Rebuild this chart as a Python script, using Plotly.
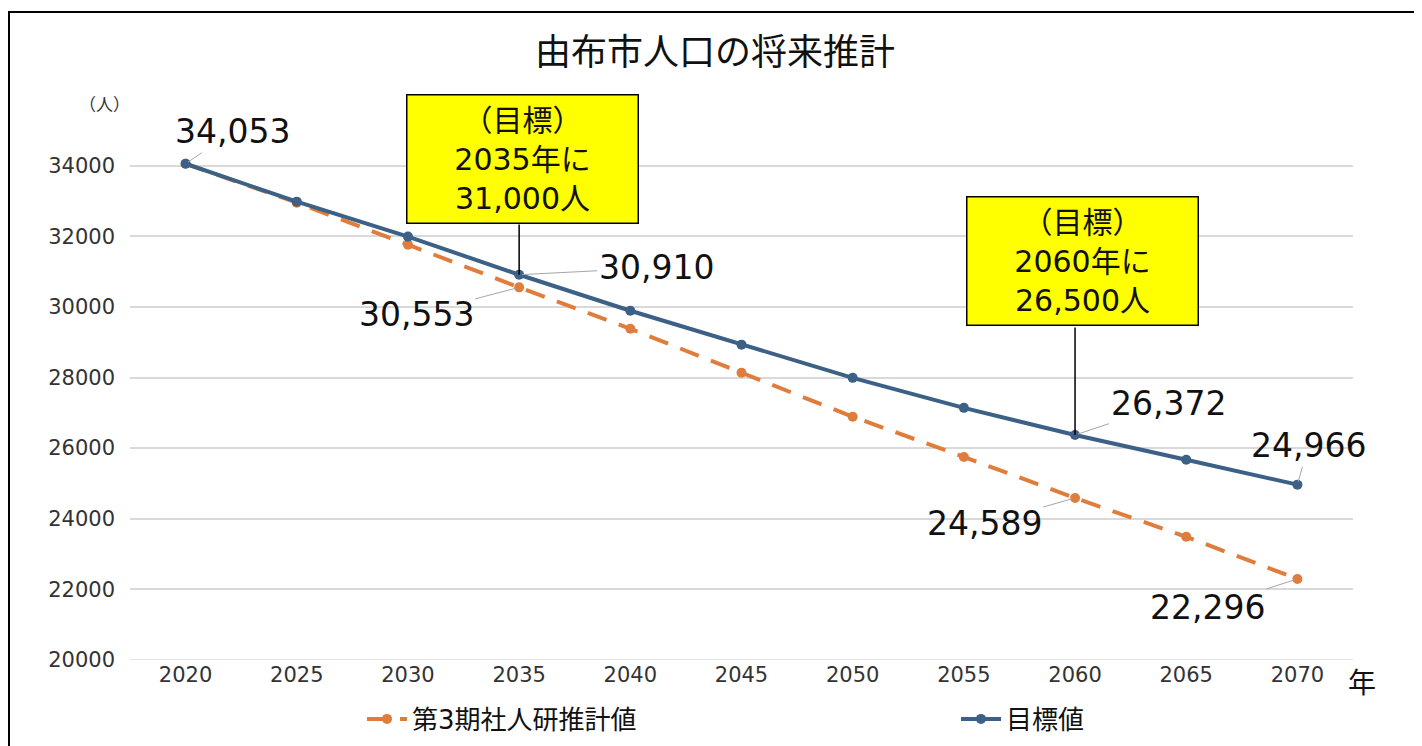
import plotly.graph_objects as go

years = ["2020", "2025", "2030", "2035", "2040", "2045", "2050", "2055", "2060", "2065", "2070"]
projection = [34053, 32950, 31760, 30553, 29380, 28135, 26890, 25750, 24589, 23490, 22296]
target = [34053, 32980, 31990, 30910, 29890, 28930, 27990, 27140, 26372, 25670, 24966]
y_ticks = [20000, 22000, 24000, 26000, 28000, 30000, 32000, 34000]

name_proj = "第3期社人研推計値"
name_target = "目標値"
title_text = "由布市人口の将来推計"

ORANGE = "#E07D3C"
BLUE = "#3D6086"
GRID = "#D9D9D9"
FONT = "DejaVu Sans, Noto Sans CJK JP, sans-serif"

fig = go.Figure()
fig.add_trace(go.Scatter(x=years, y=projection, name=name_proj, mode="lines+markers",
                         line=dict(color=ORANGE, width=4, dash="20px,13px"),
                         marker=dict(size=10, color=ORANGE), legend="legend", showlegend=True))
fig.add_trace(go.Scatter(x=years, y=target, name=name_target, mode="lines+markers",
                         line=dict(color=BLUE, width=4),
                         marker=dict(size=10, color=BLUE), legend="legend2", showlegend=True))

# page offset (html body margin) is 8px
OFF = 8
W, H = 1422 - OFF, 746 - OFF
PL, PR, PT, PB = 130, 1353, 95, 660  # plot area in page pixels
L, R, T, B = PL - OFF, W - (PR - OFF), PT - OFF, H - (PB - OFF)
pw, ph = W - L - R, H - T - B
Y0, Y1 = 20000, 36000

def px(xp):
    return (xp - OFF - L) / pw

def py(yp):
    return (H - B - (yp - OFF)) / ph

def ypix(val):
    return PT + (PB - PT) * (Y1 - val) / (Y1 - Y0)

annotations = []

# data labels with leader lines: (series, index, ax, ay)
labels = [
    (target, 0, 47, -32),
    (target, 3, 137, -7),
    (projection, 3, -103, 27),
    (target, 8, 93, -31),
    (projection, 8, -91, 26),
    (target, 10, 11, -39),
    (projection, 10, -90, 29),
]
for series, i, ax, ay in labels:
    annotations.append(dict(
        x=i, y=series[i], xref="x", yref="y",
        text=f"{series[i]:,}", showarrow=True, arrowhead=0, arrowwidth=1,
        arrowcolor="#A6A6A6", ax=ax, ay=ay, standoff=3,
        font=dict(family=FONT, size=33, color="#111111"),
    ))

# target boxes: leader line + box
boxes = [
    (3, target[3], "（目標）<br>2035年に<br>31,000人", 3, 159, 223),
    (8, target[8], "（目標）<br>2060年に<br>26,500人", 7, 261, 326),
]
for i, val, txt, dx, cy, bottom in boxes:
    annotations.append(dict(
        x=i, y=val, xref="x", yref="y", text="",
        showarrow=True, arrowhead=0, arrowwidth=1.5, arrowcolor="#000000",
        ax=0, ay=-(ypix(val) - bottom), standoff=0,
    ))
    annotations.append(dict(
        x=i, y=val, xref="x", yref="y", text=txt,
        showarrow=True, arrowcolor="rgba(0,0,0,0)", arrowwidth=0.1, arrowhead=0,
        ax=dx, ay=-(ypix(val) - cy),
        bgcolor="#FFFF00", bordercolor="#000000", borderwidth=1.5,
        borderpad=3, width=224, height=121,
        font=dict(family=FONT, size=30, color="#111111"),
    ))

# unit labels
annotations.append(dict(x=px(104), y=py(105), xref="paper", yref="paper", text="（人）",
                        xanchor="center", yanchor="middle",
                        showarrow=False, font=dict(family=FONT, size=17, color="#333333")))
annotations.append(dict(x=px(1362), y=py(684), xref="paper", yref="paper", text="年",
                        xanchor="center", yanchor="middle",
                        showarrow=False, font=dict(family=FONT, size=28, color="#111111")))

shapes = [
    dict(type="rect", xref="paper", yref="paper",
         x0=px(9), x1=px(1440), y0=py(770), y1=py(12),
         line=dict(color="#000000", width=2), fillcolor="rgba(0,0,0,0)", layer="below"),
    dict(type="line", xref="paper", yref="y", x0=0, x1=1, y0=Y0, y1=Y0,
         line=dict(color=GRID, width=1.5), layer="below"),
]

legend_common = dict(orientation="h", yanchor="middle", y=py(719), xanchor="left",
                     font=dict(family=FONT, size=26, color="#111111"),
                     itemwidth=40, bgcolor="rgba(0,0,0,0)", visible=True)

fig.update_layout(
    width=W, height=H,
    showlegend=True,
    margin=dict(l=L, r=R, t=T, b=B, autoexpand=False),
    paper_bgcolor="white", plot_bgcolor="white",
    title=dict(text=title_text, x=px(715), xref="paper", xanchor="center",
               y=1 - (52 - OFF) / H, yanchor="middle",
               font=dict(family=FONT, size=36, color="#111111")),
    xaxis=dict(type="category", range=[-0.5, 10.5], showgrid=False, showline=False,
               ticks="", automargin=False, tickfont=dict(family=FONT, size=21, color="#333333")),
    yaxis=dict(range=[Y0, Y1], tickvals=y_ticks, ticktext=[str(v) for v in y_ticks],
               showgrid=True, gridcolor=GRID, gridwidth=1.5, zeroline=False, showline=False,
               ticks="", ticklabelstandoff=14, automargin=False,
               tickfont=dict(family=FONT, size=21, color="#333333")),
    legend=dict(x=px(362), **legend_common),
    legend2=dict(x=px(956), **legend_common),
    annotations=annotations,
    shapes=shapes,
)

fig.write_html("out.html")
